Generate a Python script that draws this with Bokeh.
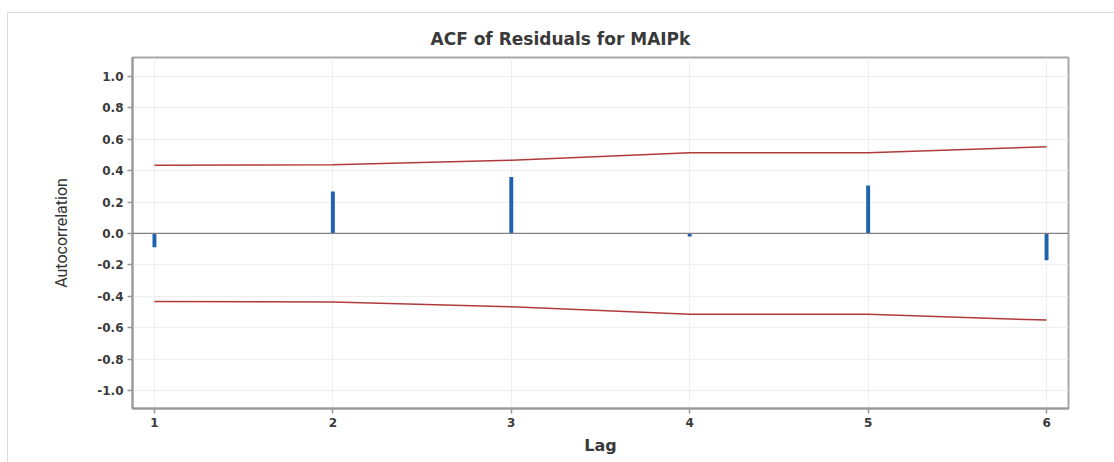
from bokeh.plotting import figure
from bokeh.models import Span, Range1d, FixedTicker
from bokeh.embed import file_html
from bokeh.resources import INLINE

lags = [1, 2, 3, 4, 5, 6]
acf = [-0.087, 0.267, 0.36, -0.02, 0.305, -0.17]
upper_limit = [0.434, 0.437, 0.467, 0.514, 0.515, 0.552]
lower_limit = [-0.434, -0.437, -0.467, -0.514, -0.515, -0.552]
y_ticks = [-1.0, -0.8, -0.6, -0.4, -0.2, 0.0, 0.2, 0.4, 0.6, 0.8, 1.0]

p = figure(width=1107, height=450, output_backend="svg", toolbar_location=None,
           x_range=Range1d(0.877, 6.123), y_range=Range1d(-1.115, 1.121),
           min_border_left=124, min_border_right=47, min_border_top=44, min_border_bottom=55,
           margin=(12, 0, 0, 7))
p.styles = {"border": "1px solid #dcdcdc", "border-right": "none", "border-bottom": "none"}

p.title.text = "ACF of Residuals for MAIPk"
p.title.align = "left"
p.title.offset = 298
p.title.text_font = "DejaVu Sans"
p.title.text_font_size = "17px"
p.title.text_font_style = "bold"
p.title.text_color = "#3a3a3a"
p.title.standoff = 18

p.xaxis.ticker = FixedTicker(ticks=lags)
p.yaxis.ticker = FixedTicker(ticks=y_ticks)
p.yaxis.major_label_overrides = {v: f"{v:.1f}" for v in y_ticks}
p.xaxis.axis_label = "Lag"
p.yaxis.axis_label = "Autocorrelation"
for ax in (p.xaxis[0], p.yaxis[0]):
    ax.axis_line_color = "#999999"
    ax.axis_line_width = 2
    ax.major_tick_line_color = "#999999"
    ax.major_tick_line_width = 1.5
    ax.major_tick_out = 5
    ax.major_tick_in = 0
    ax.minor_tick_line_color = None
    ax.major_label_text_font = "DejaVu Sans"
    ax.major_label_text_font_size = "12px"
    ax.major_label_text_font_style = "bold"
    ax.major_label_text_color = "#3a3a3a"
    ax.major_label_standoff = 4
p.xaxis.axis_label_text_font = "DejaVu Sans"
p.xaxis.axis_label_text_font_size = "16px"
p.xaxis.axis_label_text_font_style = "bold"
p.xaxis.axis_label_text_color = "#3a3a3a"
p.xaxis.axis_label_standoff = 6
p.yaxis.axis_label_text_font = "Roboto"
p.yaxis.axis_label_text_font_size = "16px"
p.yaxis.axis_label_text_font_style = "normal"
p.yaxis.axis_label_text_color = "#333333"
p.yaxis.axis_label_standoff = 23

p.xgrid.grid_line_color = "#eeeeee"
p.ygrid.grid_line_color = "#eeeeee"
p.outline_line_color = "#a8a8a8"
p.outline_line_width = 2

p.add_layout(Span(location=0, dimension="width", line_color="#808080", line_width=1.2))

p.line(lags, upper_limit, line_color="#b03a3a", line_width=1.5)
p.line(lags, lower_limit, line_color="#b03a3a", line_width=1.5)
p.vbar(x=lags, top=acf, bottom=0, width=0.022, fill_color="#1f62b0", line_color=None)

open("out.html", "w").write(file_html(p, INLINE))
